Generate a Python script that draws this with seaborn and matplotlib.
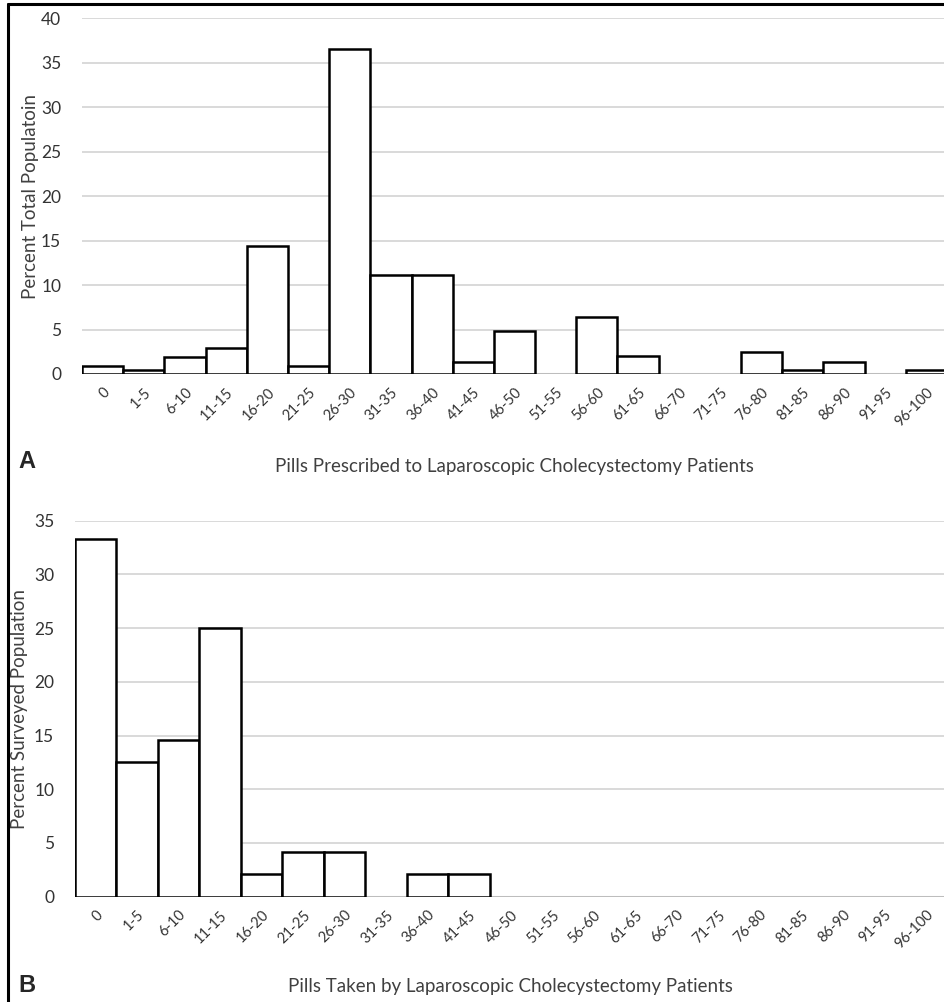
import pandas as pd
import matplotlib
matplotlib.use('Agg')
import matplotlib.pyplot as plt
from matplotlib.lines import Line2D
import seaborn as sns

# categorias de comprimidos (iguais nos dois painéis)
faixas = ['0', '1-5', '6-10', '11-15', '16-20', '21-25', '26-30', '31-35', '36-40',
          '41-45', '46-50', '51-55', '56-60', '61-65', '66-70', '71-75', '76-80',
          '81-85', '86-90', '91-95', '96-100']

# painel A: prescritos (% da população total)
pct_prescritos = [0.95, 0.5, 1.95, 2.9, 14.4, 0.95, 36.5, 11.1, 11.1, 1.4, 4.8,
                  0, 6.4, 2.0, 0, 0, 2.5, 0.5, 1.4, 0, 0.5]

# painel B: tomados (% da população entrevistada)
pct_tomados = [33.3, 12.5, 14.6, 25.0, 2.1, 4.2, 4.2, 0, 2.1, 2.1, 0,
               0, 0, 0, 0, 0, 0, 0, 0, 0, 0]

df_a = pd.DataFrame({'faixa': faixas, 'pct': pct_prescritos})
df_b = pd.DataFrame({'faixa': faixas, 'pct': pct_tomados})

sns.set_style('white')
plt.rcParams['font.family'] = ['Lato', 'DejaVu Sans']

W, H = 945, 1002
fig = plt.figure(figsize=(W / 100, H / 100), dpi=100)


def painel(df, left, top, bottom, width, ymax, ylabel, xlabel, letra, ylab_x, xlab_y, letra_y):
    ax = fig.add_axes([left / W, 1 - bottom / H, width / W, (bottom - top) / H])
    sns.barplot(data=df, x='faixa', y='pct', ax=ax, width=1.0, color='white',
                edgecolor='black', linewidth=1.8, zorder=3)
    for p in ax.patches:
        if p.get_height() == 0:
            p.set_visible(False)  # barras vazias não aparecem no original
    ax.set_xlim(-0.5, len(faixas) - 0.5)
    ax.set_ylim(0, ymax)
    ax.set_yticks(range(0, ymax + 1, 5))
    ax.yaxis.grid(True, color='#d9d9d9', linewidth=1.4, zorder=0)
    ax.axhline(0, color='#bdbdbd', linewidth=2.2, zorder=2)
    sns.despine(ax=ax, left=True, bottom=True, right=True, top=True)
    ax.tick_params(axis='both', length=0, colors='#333333')
    ax.tick_params(axis='y', pad=15, labelsize=12.5)
    ax.tick_params(axis='x', pad=8, labelsize=10.5)
    plt.setp(ax.get_xticklabels(), rotation=45, ha='right', rotation_mode='anchor')
    ax.set_ylabel(ylabel, fontsize=13.5, color='#404040')
    ax.yaxis.set_label_coords(ylab_x, 0.5)
    ax.set_xlabel(xlabel, fontsize=13.5, color='#404040')
    ax.xaxis.set_label_coords(0.5, xlab_y)
    fig.text(18 / W, 1 - letra_y / H, letra, fontsize=17, fontweight='bold',
             family='Liberation Sans', va='center', ha='left')
    return ax


painel(df_a, 82, 18.3, 374, 865, 40, 'Percent Total Populatoin',
       'Pills Prescribed to Laparoscopic Cholecystectomy Patients', 'A',
       -0.050, -0.236, 462)
painel(df_b, 75, 520.7, 896.7, 871.5, 35, 'Percent Surveyed Population',
       'Pills Taken by Laparoscopic Cholecystectomy Patients', 'B',
       -0.0534, -0.216, 985)

# moldura (só topo e esquerda aparecem na imagem)
fig.add_artist(Line2D([8 / W, 1], [1 - 4 / H, 1 - 4 / H], color='black', linewidth=2.2))
fig.add_artist(Line2D([8 / W, 8 / W], [0, 1 - 4 / H], color='black', linewidth=2.2))

fig.savefig('out.png', dpi=100)
